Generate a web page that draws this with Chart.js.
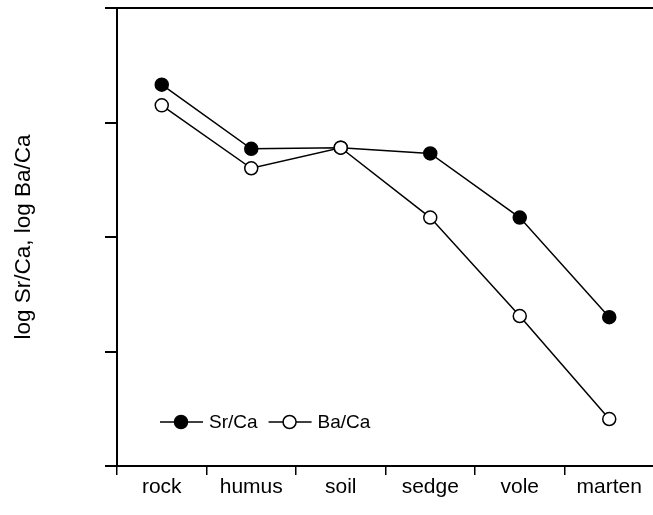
<!DOCTYPE html>
<html>
<head>
<meta charset="utf-8">
<script src="https://cdn.jsdelivr.net/npm/chart.js@4/dist/chart.umd.min.js"></script>
<style>
  html, body { margin: 0; padding: 0; background: #fff; overflow: hidden; }
  #wrap { width: 662px; height: 515px; }
</style>
</head>
<body>
<div id="wrap"><canvas id="chart"></canvas></div>
<script>
const categories = ['rock', 'humus', 'soil', 'sedge', 'vole', 'marten'];
const srCa = [3.33, 2.77, 2.78, 2.73, 2.17, 1.30];
const baCa = [3.15, 2.60, 2.78, 2.17, 1.31, 0.41];
const yTicks = [0, 1, 2, 3, 4];

const FONT = 'Liberation Sans, Arial, Helvetica, sans-serif';

// legend drawn as line + marker + text, like the original figure
const inlineLegend = {
  id: 'inlineLegend',
  afterDatasetsDraw(chart) {
    const { ctx, chartArea } = chart;
    const y = chartArea.top + 414;
    let x = chartArea.left + 43;
    ctx.save();
    ctx.font = '19px ' + FONT;
    ctx.textBaseline = 'middle';
    chart.data.datasets.forEach(ds => {
      ctx.strokeStyle = '#000';
      ctx.lineWidth = 1.5;
      ctx.beginPath();
      ctx.moveTo(x, y);
      ctx.lineTo(x + 43, y);
      ctx.stroke();
      ctx.beginPath();
      ctx.arc(x + 21, y, 6.5, 0, Math.PI * 2);
      ctx.fillStyle = ds.pointBackgroundColor;
      ctx.fill();
      ctx.stroke();
      ctx.fillStyle = '#000';
      ctx.fillText(ds.label, x + 49, y + 1);
      x += 49 + ctx.measureText(ds.label).width + 11;
    });
    ctx.restore();
  }
};

new Chart(document.getElementById('chart'), {
  type: 'line',
  data: {
    labels: categories,
    datasets: [
      {
        label: 'Sr/Ca',
        data: srCa,
        borderColor: '#000',
        borderWidth: 1.5,
        pointRadius: 6.5,
        pointBorderWidth: 1.5,
        pointBackgroundColor: '#000',
        pointBorderColor: '#000',
        order: 2,
      },
      {
        label: 'Ba/Ca',
        data: baCa,
        borderColor: '#000',
        borderWidth: 1.5,
        pointRadius: 6.5,
        pointBorderWidth: 1.5,
        pointBackgroundColor: '#fff',
        pointBorderColor: '#000',
        order: 1,
      },
    ],
  },
  options: {
    responsive: true,
    maintainAspectRatio: false,
    animation: false,
    layout: { padding: { top: 6, right: 1, left: 0, bottom: 0 } },
    plugins: {
      legend: { display: false },
      tooltip: { enabled: false },
    },
    scales: {
      x: {
        offset: true,
        grid: {
          offset: true,
          drawOnChartArea: false,
          color: '#000',
          lineWidth: 1.5,
          tickLength: 9,
        },
        border: { display: true, color: '#000', width: 2 },
        ticks: {
          color: '#000',
          font: { family: FONT, size: 21 },
          padding: 0,
          maxRotation: 0,
        },
        afterFit(scale) { scale.height = 49; },
      },
      y: {
        min: yTicks[0],
        max: yTicks[yTicks.length - 1],
        afterBuildTicks(scale) { scale.ticks = yTicks.map(v => ({ value: v })); },
        grid: {
          color: c => (c.tick && c.tick.value === yTicks[yTicks.length - 1] ? '#000' : 'rgba(0,0,0,0)'),
          tickColor: '#000',
          lineWidth: 2,
          tickLength: 12,
        },
        border: { display: true, color: '#000', width: 2 },
        ticks: { display: false },
        title: {
          display: true,
          text: 'log Sr/Ca, log Ba/Ca',
          color: '#000',
          font: { family: FONT, size: 22.5 },
          padding: { top: 10, bottom: 0 },
        },
        afterFit(scale) { scale.width = 117; },
      },
    },
  },
  plugins: [inlineLegend],
});
</script>
</body>
</html>
